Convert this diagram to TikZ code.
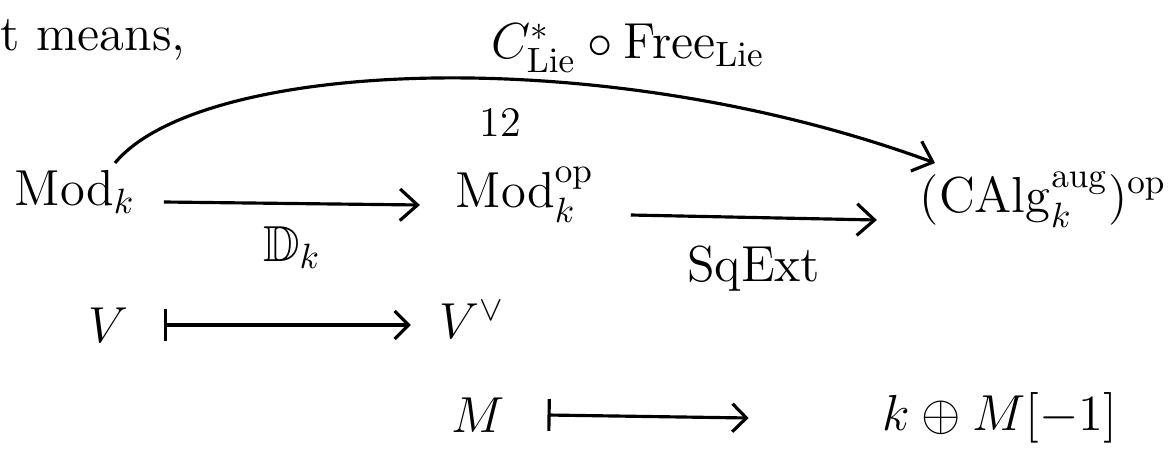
\documentclass[tikz,border=0pt]{standalone}
\usepackage{amssymb}
\usetikzlibrary{arrows.meta, positioning, calc}

\begin{document}
\begin{tikzpicture}[x=0.1mm, y=-0.1mm, font=\Large,
        obj/.style={inner sep=2pt},
        lbl/.style={inner sep=1pt},
        map/.style={-{Straight Barb[length=5pt, width=9pt]}, line width=0.9pt},
        elt/.style={{Bar[width=9pt]}-{Straight Barb[length=4pt, width=8pt]}, line width=0.9pt}
    ]
        \useasboundingbox (0,0) rectangle (1168,450);
        \node[anchor=west, inner sep=0pt] (means) at (0,40) {t means,};
        % the three objects
        \node[obj] (modk) at (75,192) {$\mathrm{Mod}_k$};
        \node[obj, anchor=west] (modop) at (448,195) {$\mathrm{Mod}_k^{\mathrm{op}}$};
        \node[obj] (calg) at (1043,200) {$(\mathrm{CAlg}_k^{\mathrm{aug}})^{\mathrm{op}}$};
        \draw[map] ($(modk.east)+(6pt,-1mm)$) -- ($(modop.west)+(-8pt,-1mm)$)
            node[lbl, midway, below=5pt] (dk) {$\mathbb{D}_k$};
        \draw[map] ($(modop.west)+(52pt,-2mm)$) -- ($(calg.west)+(-10pt,-2mm)$)
            node[lbl, midway, below=7pt] (sqext) {$\mathrm{SqExt}$};
        % the curved composite
        \coordinate (cs) at (115,163);
        \coordinate (ce) at (935,163);
        \draw[map] (cs) .. controls (200,60) and (600,40) .. (ce);
        \node[lbl] (comp) at (628,48) {$C^*_{\mathrm{Lie}}\circ\mathrm{Free}_{\mathrm{Lie}}$};
        \node[lbl, font=\large] (iso) at (500,122) {12};
        % on elements
        \node[obj] (v) at (108,325) {$V$};
        \node[obj, anchor=west] (vd) at (432,320) {$V^\vee$};
        \draw[elt] ($(v.east)+(8pt,0)$) -- ($(vd.west)+(-6pt,5)$);
        \node[obj] (m) at (478,415) {$M$};
        \node[obj] (km) at (1000,418) {$k\oplus M[-1]$};
        \draw[elt] ($(m.east)+(10pt,0)$) -- ($(km.west)+(-36pt,0)$);
    \end{tikzpicture}
\end{document}
